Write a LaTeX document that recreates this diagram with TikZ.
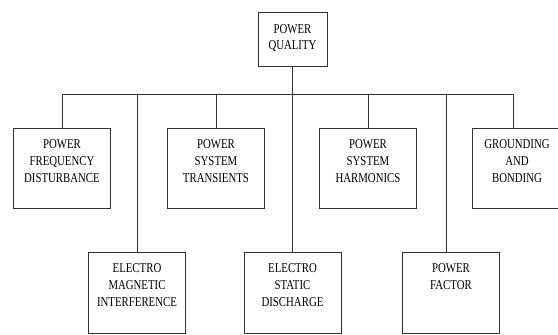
\documentclass[tikz,border=0pt]{standalone}
\usepackage{fontspec}
\setmainfont[FakeStretch=0.8]{Liberation Serif}
\usepackage{tikz}
\usetikzlibrary{positioning}

\begin{document}
\begin{tikzpicture}[
  x=1pt, y=-1pt,
  topbox/.style={draw=black!80, line width=1pt, anchor=north, inner sep=0pt,
                 text width=69pt, align=center, text height=21pt, text depth=33pt,
                 font=\fontsize{13.5}{16}\selectfont},
  box/.style={draw=black!80, line width=1pt, anchor=north, inner sep=0pt,
              text width=97pt, align=center, text height=20pt, text depth=60pt,
              font=\fontsize{13.5}{17}\selectfont},
  link/.style={draw=black!80, line width=1pt},
]
\useasboundingbox (0,0) rectangle (558,335);

% Root
\node[topbox] (pq) at (292.5,12) {POWER\\QUALITY};
\coordinate (bus) at (292.5,94);

% Upper row
\node[box] (pfd) at (62,128) {POWER\\FREQUENCY\\DISTURBANCE};
\node[box] (pst) at (216,128) {POWER\\SYSTEM\\TRANSIENTS};
\node[box] (psh) at (368,128) {POWER\\SYSTEM\\HARMONICS};
\node[box, text width=90pt] (gab) at (517,128) {GROUNDING\\AND\\BONDING};

% Lower row
\node[box, text depth=61pt] (emi) at (137,252) {ELECTRO\\MAGNETIC\\INTERFERENCE};
\node[box, text depth=61pt] (esd) at (292.5,252) {ELECTRO\\STATIC\\DISCHARGE};
\node[box, text depth=61pt] (pf) at (451,252) {POWER\\FACTOR};

% Connectors
\draw[link] (pq.south) -- (bus);
\draw[link] (bus) -| (pfd.north);
\draw[link] (bus) -| (pst.north);
\draw[link] (bus) -| (psh.north);
\draw[link] (bus) -| ([xshift=-4pt]gab.north);
\draw[link] (bus) -| (emi.north);
\draw[link] (bus) -- (esd.north);
\draw[link] (bus) -| ([xshift=-5pt]pf.north);
\end{tikzpicture}
\end{document}
